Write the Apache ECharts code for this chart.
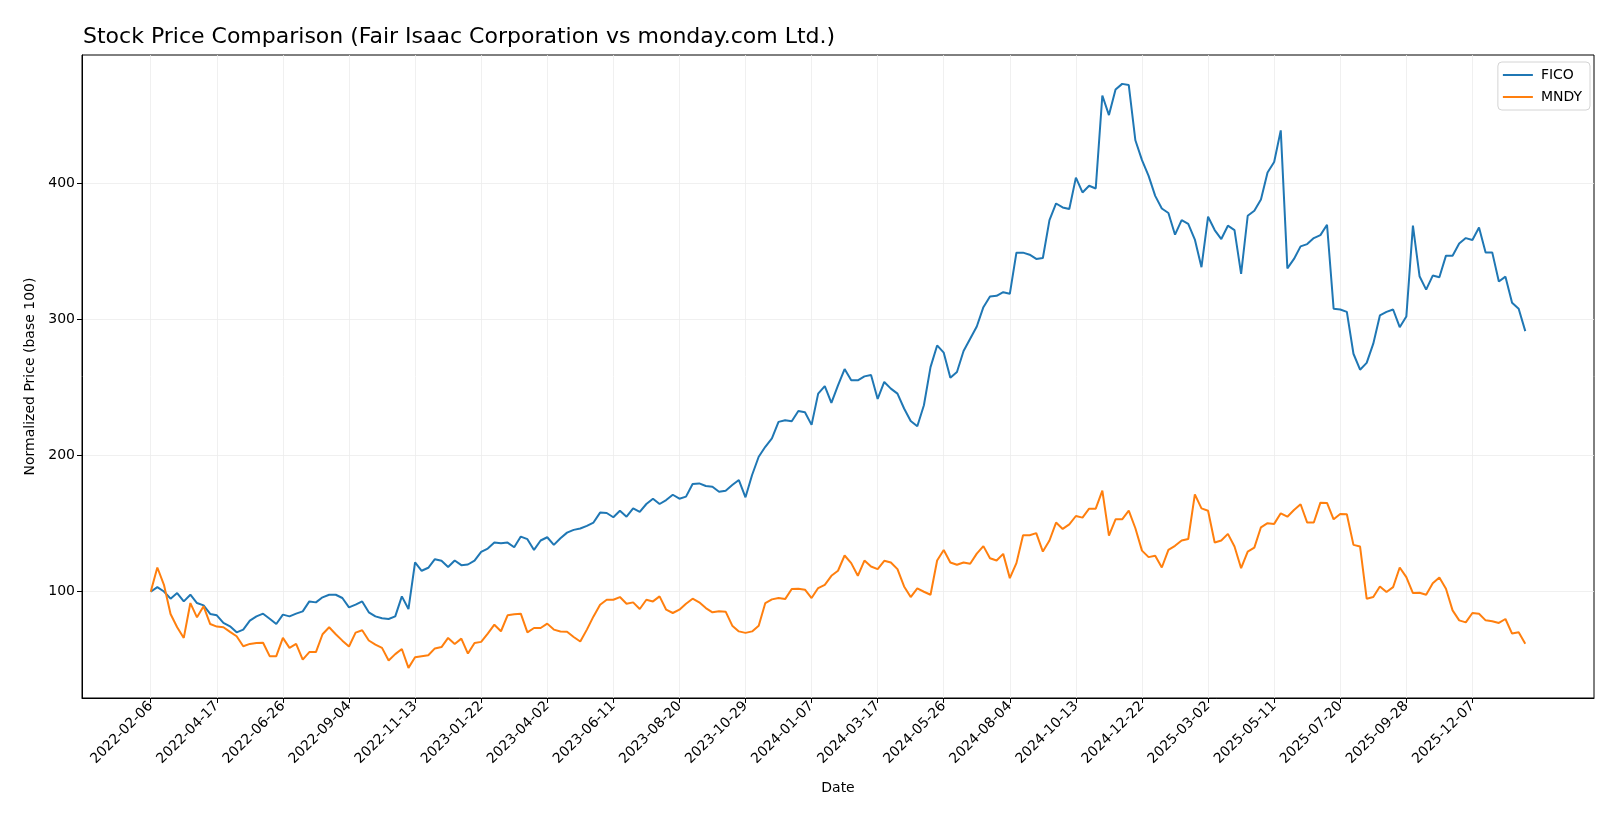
<!DOCTYPE html>
<html>
<head>
<meta charset="utf-8">
<script src="https://cdn.jsdelivr.net/npm/echarts@6/dist/echarts.min.js"></script>
<style>
html,body{margin:0;padding:0;background:#fff;}
#chart{width:1620px;height:819px;}
</style>
</head>
<body>
<div id="chart"></div>
<script>
const startDate = '2022-02-06';
const tickIndices = [0,10,20,30,40,50,60,70,80,90,100,110,120,130,140,150,160,170,180,190,200];
const yTicks = [100,200,300,400];

const fico = [
100.0,103.4,100.2,94.9,99.0,92.9,97.8,91.7,90.0,83.7,
82.7,77.1,74.6,70.2,72.2,78.8,81.9,83.9,80.2,76.3,
83.2,81.9,83.9,85.6,92.9,92.2,95.9,97.8,97.8,95.4,
88.5,90.5,92.9,84.9,81.9,80.5,80.0,81.9,96.6,87.3,
121.5,115.4,117.6,123.9,122.7,118.1,122.9,119.5,120.0,122.9,
129.3,131.7,136.1,135.6,136.1,132.7,140.5,138.6,130.7,137.6,
140.0,134.4,139.3,143.4,145.4,146.4,148.3,150.8,158.1,157.8,
154.7,159.5,155.1,161.2,158.6,164.4,168.3,164.4,167.3,171.2,
168.3,169.8,179.1,179.5,177.6,177.1,173.4,174.2,178.3,182.0,
169.3,185.7,199.1,206.4,212.5,224.7,225.9,225.2,232.7,231.8,
222.5,245.4,251.0,238.6,251.5,263.5,255.2,255.2,258.1,259.1,
241.5,254.0,249.1,245.4,234.5,225.4,221.5,236.9,264.9,280.8,
275.5,257.1,261.3,276.7,285.7,294.7,308.9,316.7,317.2,319.9,
318.7,348.9,348.9,347.4,344.3,345.0,372.8,385.0,382.1,380.9,
404.0,393.1,398.0,396.0,464.3,449.9,468.7,472.8,471.9,431.4,
416.8,405.3,390.6,381.3,378.0,362.1,372.8,370.0,358.5,338.2,
375.3,365.5,358.9,368.7,365.5,333.3,376.0,379.7,387.9,407.7,
415.5,438.7,337.4,344.3,353.5,355.2,359.6,361.8,369.4,307.7,
307.2,305.4,274.7,263.0,268.0,282.1,302.8,305.4,307.2,294.2,
302.0,368.7,331.6,321.8,332.1,330.8,346.7,346.7,355.7,359.6,
358.2,367.4,349.1,349.1,327.7,331.3,312.1,307.7,291.3
];

const mndy = [
100.0,117.8,105.1,83.7,73.9,66.1,91.7,81.2,89.3,76.3,
74.4,73.9,70.5,67.3,60.0,61.7,62.4,62.6,52.7,52.7,
66.1,58.8,61.7,50.2,55.7,55.7,68.8,73.9,68.8,64.1,
59.8,70.0,71.7,64.2,61.2,58.8,49.5,54.2,58.0,44.1,
51.9,52.7,53.4,58.4,59.4,66.1,61.7,65.6,54.6,62.4,
63.2,69.3,75.8,71.0,82.7,83.4,83.9,70.2,73.4,73.4,
76.6,72.2,70.8,70.7,66.8,63.5,72.2,81.9,90.5,94.1,
94.1,96.1,91.2,92.2,87.3,94.1,92.9,96.6,86.8,84.4,
86.8,91.2,94.9,92.2,88.0,84.9,85.6,85.4,75.1,70.9,
69.8,70.9,75.1,91.7,94.4,95.4,94.6,102.0,102.2,101.5,
95.4,102.7,105.1,111.7,115.4,126.6,121.0,111.7,122.9,118.5,
116.6,122.7,121.5,116.6,103.9,96.1,102.4,100.0,97.8,122.9,
130.7,121.5,119.8,121.5,120.5,128.0,133.5,124.6,122.9,127.8,
110.0,121.0,141.5,141.5,143.0,129.5,137.6,150.8,146.1,149.5,
155.6,154.4,161.0,161.0,174.2,141.2,153.2,153.2,159.5,146.6,
130.2,125.4,126.4,117.8,130.7,133.7,137.6,138.7,171.5,161.2,
159.5,136.1,137.6,142.5,133.2,117.3,129.5,132.4,147.3,150.3,
149.8,157.6,155.1,160.0,164.2,150.8,150.8,165.4,165.2,153.2,
157.1,156.9,134.4,133.2,94.9,96.1,103.9,99.8,103.4,117.8,
110.7,99.0,99.3,97.8,106.3,110.5,102.2,86.3,79.0,77.5,
84.4,83.8,79.0,78.3,77.1,80.0,69.3,70.2,61.9
];

function dateLabel(i) {
  const d = new Date(startDate + 'T00:00:00Z');
  d.setUTCDate(d.getUTCDate() + 7 * Math.round(i));
  return d.toISOString().slice(0, 10);
}

const ficoData = fico.map((v, i) => [i, v]);
const mndyData = mndy.map((v, i) => [i, v]);

const FONT = 'DejaVu Sans';
const chart = echarts.init(document.getElementById('chart'), null, {renderer: 'canvas'});
chart.setOption({
  animation: false,
  backgroundColor: '#ffffff',
  textStyle: {fontFamily: FONT},
  title: {
    text: 'Stock Price Comparison (Fair Isaac Corporation vs monday.com Ltd.)',
    left: 78, top: 21,
    textStyle: {fontFamily: FONT, fontSize: 22, fontWeight: 'normal', color: '#000'}
  },
  legend: {
    data: ['FICO', 'MNDY'],
    orient: 'vertical',
    right: 30, top: 62,
    icon: 'rect',
    itemWidth: 30, itemHeight: 2,
    itemGap: 8,
    padding: [6, 8, 6, 5],
    backgroundColor: '#fff',
    borderColor: '#d4d4d4', borderWidth: 1, borderRadius: 4,
    textStyle: {fontFamily: FONT, fontSize: 14, color: '#000', padding: [0, 0, 0, 3]}
  },
  grid: {
    left: 82, right: 26, top: 55, bottom: 121,
    show: true, borderColor: '#000', borderWidth: 1, backgroundColor: 'transparent'
  },
  xAxis: {
    type: 'value',
    min: -10.4, max: 218.4,
    name: 'Date', nameLocation: 'middle', nameGap: 83,
    nameTextStyle: {fontFamily: FONT, fontSize: 14, color: '#000'},
    axisLine: {show: true, onZero: false, lineStyle: {color: '#000', width: 1}},
    axisTick: {show: true, length: 5, lineStyle: {color: '#000'}, customValues: tickIndices},
    axisLabel: {
      customValues: tickIndices,
      rotate: 45, fontFamily: FONT, fontSize: 14, color: '#000', margin: 6,
      formatter: v => dateLabel(v)
    },
    splitLine: {show: true, lineStyle: {color: '#ececec', width: 0.8}}
  },
  yAxis: {
    type: 'value',
    min: 22, max: 494,
    name: 'Normalized Price (base 100)', nameLocation: 'middle', nameGap: 45, nameRotate: 90,
    nameTextStyle: {fontFamily: FONT, fontSize: 14, color: '#000'},
    axisLine: {show: true, onZero: false, lineStyle: {color: '#000', width: 1}},
    axisTick: {show: true, length: 5, lineStyle: {color: '#000'}, customValues: yTicks},
    axisLabel: {customValues: yTicks, fontFamily: FONT, fontSize: 14, color: '#000', margin: 7},
    splitLine: {show: true, lineStyle: {color: '#ececec', width: 0.8}}
  },
  series: [
    {name: 'FICO', type: 'line', data: ficoData, showSymbol: false, symbol: 'none',
     lineStyle: {color: '#1f77b4', width: 2}, itemStyle: {color: '#1f77b4'}},
    {name: 'MNDY', type: 'line', data: mndyData, showSymbol: false, symbol: 'none',
     lineStyle: {color: '#ff7f0e', width: 2}, itemStyle: {color: '#ff7f0e'}}
  ]
});
</script>
</body>
</html>
